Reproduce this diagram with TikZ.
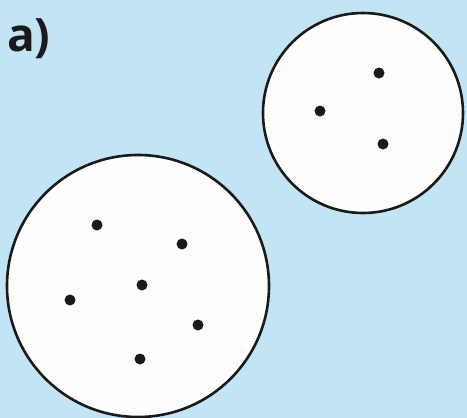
\documentclass[tikz,border=0pt]{standalone}
\usepackage{fontspec}
\setmainfont{Open Sans}
\definecolor{bgblue}{HTML}{C2E5F5}
\definecolor{disc}{HTML}{FDFDFB}
\definecolor{ink}{HTML}{1A1A1A}
\tikzset{
  setcircle/.style={circle, draw=ink, fill=disc, line width=2.6pt, inner sep=0pt},
  pt/.style={circle, fill=ink, inner sep=0pt, minimum size=11pt},
}
\begin{document}
\begin{tikzpicture}[x=1pt,y=-1pt]
\fill[bgblue] (0,0) rectangle (467,418);
\useasboundingbox (0,0) rectangle (467,418);
\node[anchor=base west, inner sep=0pt, text=ink, font=\fontsize{46}{50}\selectfont\bfseries] (lab) at (7,51) {a)};
\begin{scope}
\clip (0,0) rectangle (467,418);
\node[setcircle, minimum size=262pt] (big) at (138,286) {};
\end{scope}
\node[setcircle, minimum size=200pt] (small) at (363,113) {};
% dots in the big set
\node[pt] (b1) at (97,225) {};
\node[pt] (b2) at (182,244) {};
\node[pt] (b3) at (142,285) {};
\node[pt] (b4) at (70,300) {};
\node[pt] (b5) at (198,325) {};
\node[pt] (b6) at (140,359) {};
% dots in the small set
\node[pt] (s1) at (379,73) {};
\node[pt] (s2) at (320,111) {};
\node[pt] (s3) at (383,144) {};
\end{tikzpicture}
\end{document}
